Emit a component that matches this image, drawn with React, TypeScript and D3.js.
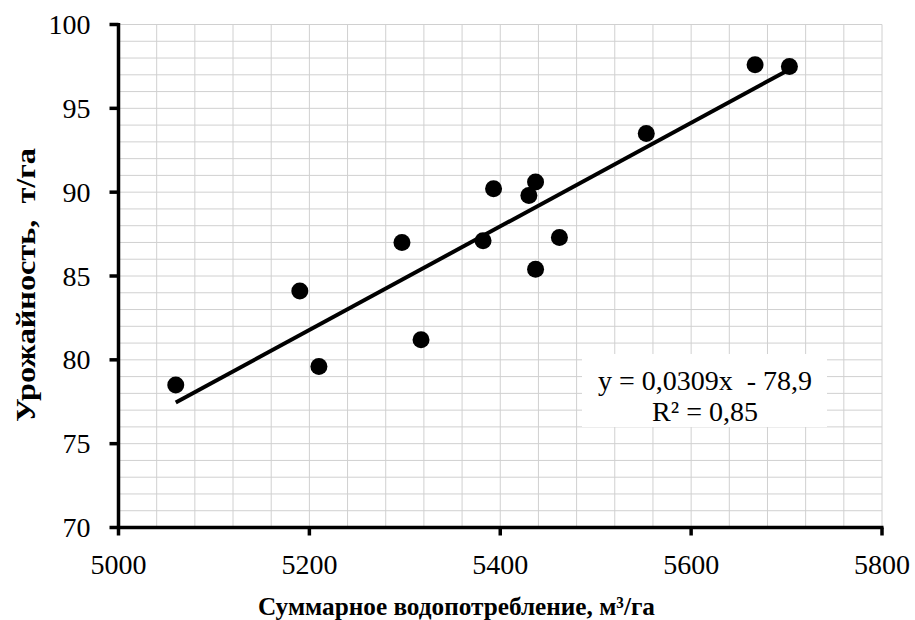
import React, { useEffect } from 'react';
import * as d3 from 'd3';

// water use, m3/ha
const waterUse = [5060, 5190, 5210, 5297, 5317, 5382, 5393, 5430, 5437, 5437, 5462, 5553, 5667, 5703];
// yield, t/ha
const yieldVals = [78.5, 84.1, 79.6, 87.0, 81.2, 87.1, 90.2, 89.8, 90.6, 85.4, 87.3, 93.5, 97.6, 97.5];

const xTicks = [5000, 5200, 5400, 5600, 5800];
const yTicks = [70, 75, 80, 85, 90, 95, 100];
const trendSlope = 0.0309;
const trendIntercept = -78.9;

const W = 915, H = 620;
const m = { left: 118.5, right: 33, top: 24.5, bottom: 92.5 };
const serif = "'Liberation Serif', 'DejaVu Serif'";

export default function App() {
  useEffect(() => {
    document.body.style.margin = '0';
  }, []);

  const x = d3.scaleLinear().domain([5000, 5800]).range([m.left, W - m.right]);
  const y = d3.scaleLinear().domain([70, 100]).range([H - m.bottom, m.top]);

  const xGrid = d3.range(5000, 5801, 40);
  const yGrid = d3.range(70, 100.5, 1);

  const xMin = d3.min(waterUse) as number;
  const xMax = d3.max(waterUse) as number;
  const trend = d3.line<number>()
    .x(d => x(d))
    .y(d => y(trendSlope * d + trendIntercept));

  const x0 = x(5000), x1 = x(5800), y0 = y(70), y1 = y(100);

  return (
    <svg width={W} height={H} style={{ display: 'block', background: '#fff', fontFamily: serif }}>
      {/* grid */}
      {xGrid.map(v => (
        <line key={'gx' + v} x1={x(v)} x2={x(v)} y1={y0} y2={y1} stroke="#d0d0d0" strokeWidth={1} />
      ))}
      {yGrid.map(v => (
        <line key={'gy' + v} x1={x0} x2={x1} y1={y(v)} y2={y(v)} stroke="#d0d0d0" strokeWidth={1} />
      ))}

      {/* axes */}
      <line x1={x0} x2={x1 + 1.5} y1={y0} y2={y0} stroke="#000" strokeWidth={3.5} />
      <line x1={x0} x2={x0} y1={y0 + 1.5} y2={y1 - 1.5} stroke="#000" strokeWidth={3.5} />
      {xTicks.map(v => (
        <g key={'xt' + v}>
          <line x1={x(v)} x2={x(v)} y1={y0} y2={y0 + 8} stroke="#000" strokeWidth={3.5} />
          <text x={x(v)} y={y0 + 46} textAnchor="middle" fontSize={28}>{v}</text>
        </g>
      ))}
      {yTicks.map(v => (
        <g key={'yt' + v}>
          <line x1={x0 - 9} x2={x0} y1={y(v)} y2={y(v)} stroke="#000" strokeWidth={3.5} />
          <text x={x0 - 28} y={y(v) + 9.5} textAnchor="end" fontSize={28}>{v}</text>
        </g>
      ))}

      {/* trend line */}
      <path d={trend([xMin, xMax]) || ''} fill="none" stroke="#000" strokeWidth={4} />

      {/* points */}
      {waterUse.map((v, i) => (
        <circle key={'p' + i} cx={x(v)} cy={y(yieldVals[i])} r={8.5} fill="#000" />
      ))}

      {/* equation label */}
      <rect x={582} y={354} width={245} height={73} fill="#fff" />
      <text x={705} y={390} textAnchor="middle" fontSize={28} xmlSpace="preserve">y = 0,0309x  - 78,9</text>
      <text x={705} y={421} textAnchor="middle" fontSize={28}>R² = 0,85</text>

      {/* axis titles */}
      <text x={456.5} y={615} textAnchor="middle" fontSize={26} fontWeight="bold"
        textLength={397} lengthAdjust="spacingAndGlyphs">
        Суммарное водопотребление, м³/га
      </text>
      <text transform="translate(35,285) rotate(-90)" textAnchor="middle" fontSize={28} fontWeight="bold"
        xmlSpace="preserve" textLength={274} lengthAdjust="spacingAndGlyphs">
        {'Урожайность,  т/га'}
      </text>
    </svg>
  );
}
